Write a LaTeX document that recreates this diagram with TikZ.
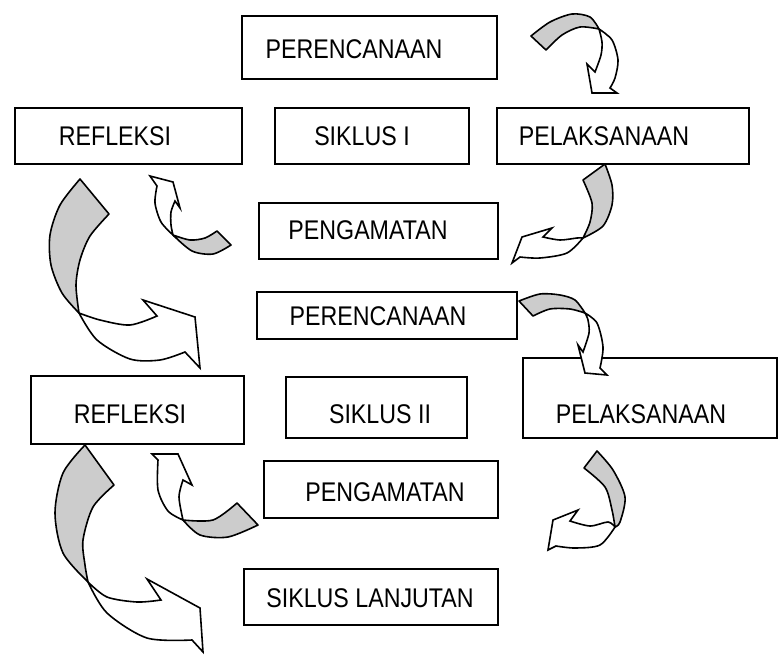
\documentclass[tikz,border=0pt]{standalone}
\usepackage{fontspec}
\setmainfont[FakeStretch=0.86]{Liberation Sans}
\definecolor{ribbon}{RGB}{204,204,204}
\begin{document}
\begin{tikzpicture}[x=1pt,y=-1pt,
  box/.style={draw, line width=1.8pt, rectangle, inner sep=0pt, anchor=north west},
  lbl/.style={font=\fontsize{27}{31}\selectfont, inner sep=0pt},
  back/.style={fill=ribbon, draw, line width=1.6pt, line join=round},
  front/.style={fill=white, draw, line width=1.6pt, line join=miter}]
\useasboundingbox (0,0) rectangle (778,654);

% boxes
\node[box, minimum width=255pt, minimum height=63pt] (perenA) at (241,15) {};
\node[box, minimum width=227pt, minimum height=56pt] (refA) at (14,107) {};
\node[box, minimum width=194pt, minimum height=56pt] (sikA) at (274,107) {};
\node[box, minimum width=252pt, minimum height=56pt] (pelA) at (496,107) {};
\node[box, minimum width=239pt, minimum height=56pt] (pengA) at (258,202) {};
\node[box, minimum width=260pt, minimum height=47pt] (perenB) at (256,291) {};
\node[box, minimum width=213pt, minimum height=68pt] (refB) at (30,375) {};
\node[box, minimum width=181pt, minimum height=61pt] (sikB) at (285,376) {};
\node[box, minimum width=254pt, minimum height=80pt] (pelB) at (522,357) {};
\node[box, minimum width=234pt, minimum height=57pt] (pengB) at (263,460) {};
\node[box, minimum width=254pt, minimum height=56pt] (lanj) at (243,568) {};

% labels
\node[lbl] (tperenA) at (354,49) {PERENCANAAN};
\node[lbl] (trefA) at (115,136) {REFLEKSI};
\node[lbl] (tsikA) at (362,136) {SIKLUS I};
\node[lbl] (tpelA) at (604,136) {PELAKSANAAN};
\node[lbl] (tpengA) at (368,230) {PENGAMATAN};
\node[lbl] (tperenB) at (378,316) {PERENCANAAN};
\node[lbl] (trefB) at (130,414) {REFLEKSI};
\node[lbl] (tsikB) at (380,414) {SIKLUS II};
\node[lbl] (tpelB) at (641,414) {PELAKSANAAN};
\node[lbl] (tpengB) at (385,492) {PENGAMATAN};
\node[lbl] (tlanj) at (370,598) {SIKLUS LANJUTAN};

% Arrow A: perencanaan I -> pelaksanaan I
\filldraw[back] plot[smooth] coordinates {(531,36) (550,22) (572,14) (590,17) (599,29)}
  -- plot[smooth] coordinates {(599,29) (580,27) (562,35) (546,50)} -- cycle;
\filldraw[front] plot[smooth] coordinates {(599,29) (612,40) (618,60) (615,78) (610,88)}
  -- (617,93) -- (592,93) -- (587,64) -- (595,72)
  -- plot[smooth] coordinates {(595,72) (601,55) (602,42) (599,29)} -- cycle;

% Arrow B: pengamatan I -> refleksi I (small)
\filldraw[back] (217,231) -- (231,245)
  -- plot[smooth] coordinates {(231,245) (213,254) (192,251) (173,235)}
  -- plot[smooth] coordinates {(173,235) (190,240) (205,238) (217,231)} -- cycle;
\filldraw[front] plot[smooth] coordinates {(173,235) (161,222) (155,203) (157,186)}
  -- (150,176) -- (173,182) -- (180,208) -- (175,201)
  -- plot[smooth] coordinates {(175,201) (171,212) (171,225) (173,235)} -- cycle;

% Arrow C: refleksi I -> siklus II (big)
\filldraw[back] (80,179) -- (109,214)
  -- plot[smooth] coordinates {(109,214) (90,236) (80,260) (76,285) (79,313)}
  -- plot[smooth] coordinates {(79,313) (62,293) (51,265) (50,235) (60,205) (80,179)} -- cycle;
\filldraw[front] plot[smooth] coordinates {(79,313) (97,340) (130,359) (160,360) (185,352)}
  -- (200,368) -- (195,317) -- (143,300) -- (157,316)
  -- plot[smooth] coordinates {(157,316) (130,325) (100,320) (79,313)} -- cycle;

% Arrow D: pelaksanaan I -> pengamatan I
\filldraw[back] (583,180) -- (605,164)
  -- plot[smooth] coordinates {(605,164) (612,185) (612,205) (603,226) (583,238)}
  -- plot[smooth] coordinates {(583,238) (590,222) (592,203) (583,180)} -- cycle;
\filldraw[front] plot[smooth] coordinates {(583,238) (567,253) (540,258) (520,257)}
  -- (512,263) -- (522,237) -- (552,228) -- (543,237)
  -- plot[smooth] coordinates {(543,237) (560,240) (577,238) (583,238)} -- cycle;

% Arrow E: perencanaan II -> pelaksanaan II
\filldraw[back] plot[smooth] coordinates {(519,301) (540,294) (560,295) (575,300) (585,313)}
  -- plot[smooth] coordinates {(585,313) (570,309) (550,309) (533,316)} -- cycle;
\filldraw[front] plot[smooth] coordinates {(585,313) (597,323) (603,347) (600,368)}
  -- (607,375) -- (585,373) -- (578,345) -- (583,352)
  -- plot[smooth] coordinates {(583,352) (589,333) (588,320) (585,313)} -- cycle;

% Arrow F: pengamatan II -> refleksi II (small)
\filldraw[back] plot[smooth] coordinates {(183,520) (213,520) (237,503)} -- (258,525)
  -- plot[smooth] coordinates {(258,525) (228,537) (200,535) (183,520)} -- cycle;
\filldraw[front] plot[smooth] coordinates {(183,520) (168,511) (158,490) (158,460)}
  -- (152,454) -- (178,454) -- (192,485) -- (183,480)
  -- plot[smooth] coordinates {(183,480) (179,497) (183,520)} -- cycle;

% Arrow G: pelaksanaan II -> pengamatan II
\filldraw[back] (584,468) -- (597,451)
  -- plot[smooth] coordinates {(597,451) (613,470) (625,497) (620,522) (615,527)}
  -- plot[smooth] coordinates {(615,527) (612,510) (605,487) (584,468)} -- cycle;
\filldraw[front] plot[smooth] coordinates {(615,527) (600,545) (575,548) (556,546)}
  -- (548,550) -- (553,520) -- (578,510) -- (570,521)
  -- plot[smooth] coordinates {(570,521) (590,526) (608,522) (615,527)} -- cycle;

% Arrow H: refleksi II -> siklus lanjutan (big)
\filldraw[back] (85,445) -- (114,485)
  -- plot[smooth] coordinates {(114,485) (93,507) (83,540) (85,565) (88,582)}
  -- plot[smooth] coordinates {(88,582) (63,553) (55,513) (63,473) (85,445)} -- cycle;
\filldraw[front] plot[smooth] coordinates {(88,582) (107,613) (147,638) (192,640)}
  -- (203,652) -- (200,608) -- (147,579) -- (161,600)
  -- plot[smooth] coordinates {(161,600) (137,602) (107,597) (88,582)} -- cycle;
\end{tikzpicture}
\end{document}
